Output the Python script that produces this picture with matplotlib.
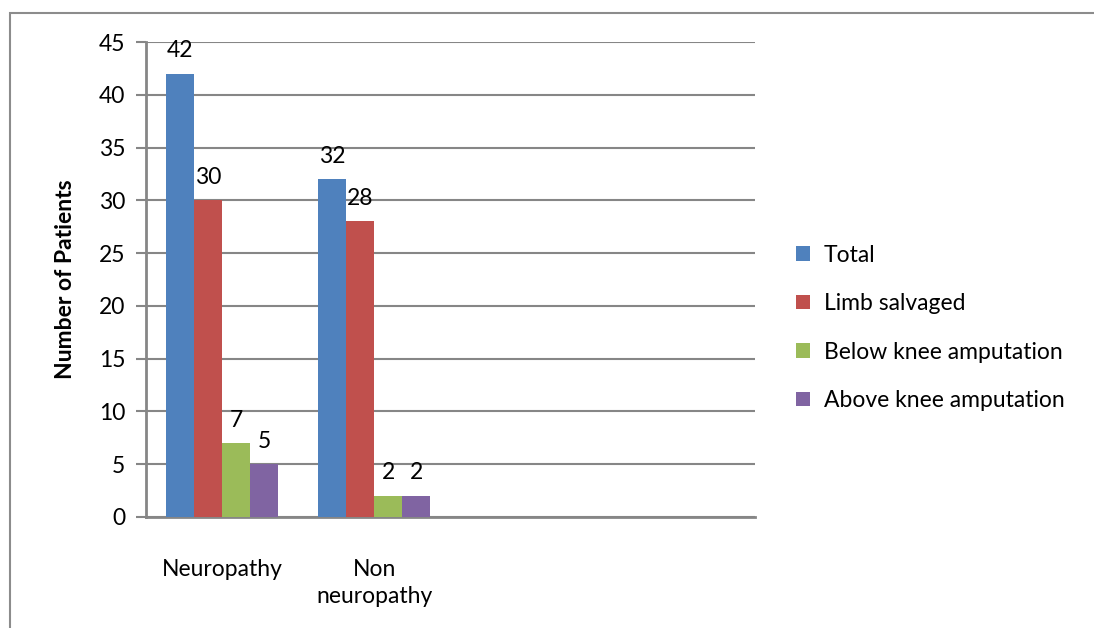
import matplotlib.pyplot as plt
from matplotlib.patches import Rectangle
import numpy as np

plt.rcParams['font.family'] = ['Lato', 'DejaVu Sans']

# data
categories = ["Neuropathy", "Non\nneuropathy", "", ""]
series_names = ["Total", "Limb salvaged", "Below knee amputation", "Above knee amputation"]
total = [42, 32, None, None]
limb_salvaged = [30, 28, None, None]
below_knee = [7, 2, None, None]
above_knee = [5, 2, None, None]
colors = ["#4F81BD", "#C0504D", "#9BBB59", "#8064A2"]

fs = 16.5

fig = plt.figure(figsize=(10.94, 6.28), dpi=100)
ax = fig.add_axes([0.1335, 0.1768, 0.5567, 0.7563])

# outer chart frame (runs off right/bottom edge)
top = 1 - 13 / 628
fig.add_artist(Rectangle((10 / 1094, -0.2), 1.5, top + 0.2,
                         transform=fig.transFigure, fill=False,
                         edgecolor="#8c8c8c", lw=1.5))

x = np.arange(len(categories))
w = 0.184
all_series = [total, limb_salvaged, below_knee, above_knee]
for i, (vals, name, c) in enumerate(zip(all_series, series_names, colors)):
    xs = [xi + (i - 1.5) * w for xi, v in zip(x, vals) if v is not None]
    vs = [v for v in vals if v is not None]
    bars = ax.bar(xs, vs, width=w, color=c, label=name, zorder=3)
    for b, v in zip(bars, vs):
        ax.annotate(str(v), (b.get_x() + b.get_width() / 2, v),
                    xytext=(0, 9), textcoords="offset points",
                    ha="center", va="bottom", fontsize=fs)

ax.set_xlim(-0.5, 3.5)
ax.set_ylim(0, 45)
ax.set_yticks(range(0, 46, 5))
ax.set_xticks(x)
ax.set_xticklabels(categories, fontsize=fs, linespacing=1.4)
ax.tick_params(axis="x", length=0, pad=30)
ax.tick_params(axis="y", labelsize=fs, length=7, width=1.5, color="#868686", pad=8)
ax.yaxis.grid(True, color="#868686", lw=1.5, zorder=0)
ax.set_axisbelow(True)
for s in ["top", "right"]:
    ax.spines[s].set_visible(False)
for s in ["left", "bottom"]:
    ax.spines[s].set_color("#868686")
    ax.spines[s].set_linewidth(2)

ax.set_ylabel("Number of Patients", fontsize=fs, fontweight="bold", labelpad=16)

fig.legend(loc="center left", bbox_to_anchor=(0.709, 0.478), frameon=False,
           fontsize=fs, handlelength=0.6, handleheight=0.6, handletextpad=0.6,
           labelspacing=1.2)

fig.savefig("out.png", dpi=100)
